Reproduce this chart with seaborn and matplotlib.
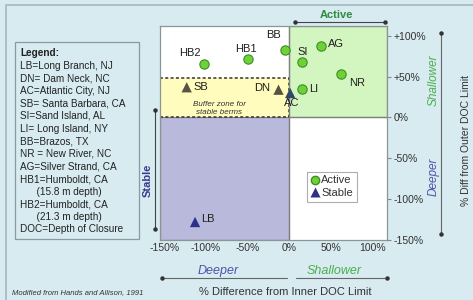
import matplotlib
matplotlib.use("Agg")
import matplotlib.pyplot as plt
from matplotlib.patches import Rectangle
from matplotlib.lines import Line2D
import seaborn as sns
import pandas as pd

# ---- data ----
active_sites = ["HB2", "HB1", "BB", "SI", "AG", "NR", "LI"]
active_inner = [-102, -50, -5, 15, 38, 62, 15]
active_outer = [66, 72, 83, 68, 88, 53, 35]

stable_sites = ["SB", "DN", "AC", "LB"]
stable_inner = [-123, -13, 1, -113]
stable_outer = [37, 34, 30, -128]

x_ticks = [-150, -100, -50, 0, 50, 100]
x_tick_labels = ["-150%", "-100%", "-50%", "0%", "50%", "100%"]
y_ticks = [100, 50, 0, -50, -100, -150]
y_tick_labels = ["+100%", "+50%", "0%", "-50%", "-100%", "-150%"]
buffer_top = 48

legend_lines = ["Legend:", "LB=Long Branch, NJ", "DN= Dam Neck, NC", "AC=Atlantic City, NJ",
                "SB= Santa Barbara, CA", "SI=Sand Island, AL", "LI= Long Island, NY",
                "BB=Brazos, TX", "NR = New River, NC", "AG=Silver Strand, CA",
                "HB1=Humboldt, CA", "      (15.8 m depth)", "HB2=Humboldt, CA",
                "      (21.3 m depth)", "DOC=Depth of Closure"]

active_df = pd.DataFrame({"site": active_sites, "inner": active_inner, "outer": active_outer})
stable_df = pd.DataFrame({"site": stable_sites, "inner": stable_inner, "outer": stable_outer})

# ---- style ----
sns.set_theme(style="white")
plt.rcParams["font.family"] = ["Liberation Sans", "DejaVu Sans"]

W, H = 473, 300
BG = "#d7ebf1"
fig = plt.figure(figsize=(W / 100, H / 100), dpi=100, facecolor=BG)

def fx(px):
    return px / W

def fy(py):
    return 1 - py / H

# outer frame
fig.patches.append(Rectangle((fx(6), -0.05), 1.1, fy(5) + 0.05, transform=fig.transFigure,
                             fill=False, edgecolor="#a5b8bf", linewidth=1.2))

ax = fig.add_axes([fx(160), fy(240), fx(387) - fx(160), fy(26) - fy(240)])
ax.set_facecolor("white")
XMIN, XMAX, YMIN, YMAX = -155, 117, -150, 112
ax.set_xlim(XMIN, XMAX)
ax.set_ylim(YMIN, YMAX)

# regions
ax.add_patch(Rectangle((0, 0), XMAX, YMAX, facecolor="#d3f5c0", edgecolor="#7f8f80", linewidth=0.9, zorder=1))
ax.add_patch(Rectangle((XMIN, YMIN), -XMIN, -YMIN, facecolor="#b9b9dc", edgecolor="#7f8080", linewidth=0.9, zorder=1))
ax.add_patch(Rectangle((XMIN, 0), -XMIN, buffer_top, facecolor="#fffcbe", edgecolor="#333333",
                       linewidth=1.1, linestyle=(0, (2, 1.5)), zorder=2))
ax.plot([0, XMAX], [0, 0], color="#7f8080", lw=0.9, zorder=2)
ax.plot([0, 0], [YMIN, YMAX], color="#7f8080", lw=0.9, zorder=2)

# points
sns.scatterplot(data=active_df, x="inner", y="outer", ax=ax, marker="o", s=45,
                color="#6fd13a", edgecolor="#3d8f22", linewidth=0.8, zorder=5, legend=False)
stable_palette = {"SB": "#585240", "DN": "#585240", "AC": "#2f4a68", "LB": "#2e2f86"}
sns.scatterplot(data=stable_df, x="inner", y="outer", ax=ax, marker="^", s=55, hue="site",
                palette=stable_palette, edgecolor="none", zorder=5, legend=False)

# point labels (offsets in pixels)
offsets = {"HB2": (-14, 11), "HB1": (-2, 10), "BB": (-12, 15), "SI": (1, 10), "AG": (15, 2),
           "NR": (16, -9), "LI": (12, 0), "SB": (14, 0), "DN": (-16, 2), "AC": (2, -10),
           "LB": (13, 3)}
for df in (active_df, stable_df):
    for s, xv, yv in zip(df["site"], df["inner"], df["outer"]):
        dx, dy = offsets[s]
        ax.annotate(s, (xv, yv), xytext=(dx * 0.72, dy * 0.72), textcoords="offset points",
                    ha="center", va="center", fontsize=8, color="#1f1f1f", zorder=6)

ax.text(-84, 11, "Buffer zone for\nstable berms", ha="center", va="center", fontsize=5.8,
        style="italic", color="#333333", linespacing=1.35, zorder=6)

# ticks
ax.set_xticks(x_ticks)
ax.set_xticklabels(x_tick_labels)
ax.yaxis.tick_right()
ax.set_yticks(y_ticks)
ax.set_yticklabels(y_tick_labels)
ax.tick_params(axis="x", length=0, pad=2, labelsize=7.5, labelcolor="#333333")
ax.tick_params(axis="y", right=True, length=3, width=0.8, color="#888888", pad=2,
               labelsize=7.5, labelcolor="#333333")
ax.set_xlabel("")
ax.set_ylabel("")
for sp in ax.spines.values():
    sp.set_color("#8a9595")
    sp.set_linewidth(0.9)

# marker legend
handles = [Line2D([], [], marker="o", linestyle="none", markersize=6, markerfacecolor="#6fd13a",
                  markeredgecolor="#3d8f22", label="Active"),
           Line2D([], [], marker="^", linestyle="none", markersize=7, markerfacecolor="#2e2f86",
                  markeredgecolor="none", label="Stable")]
leg = ax.legend(handles=handles, loc="center", bbox_to_anchor=(0.63, 0.173, 0.255, 0.154),
                fontsize=8, frameon=True, fancybox=False, handlelength=0.7, handletextpad=0.2,
                borderpad=0.35, labelspacing=0.2, borderaxespad=0)
leg.get_frame().set_edgecolor("#999999")
leg.get_frame().set_linewidth(0.8)
for t in leg.get_texts():
    t.set_color("#333333")
leg.set_zorder(7)

# text legend box
fig.patches.append(Rectangle((fx(15), fy(239)), fx(139) - fx(15), fy(42) - fy(239),
                             transform=fig.transFigure, facecolor="none", edgecolor="#8a9a9f", linewidth=0.9))
for i, line in enumerate(legend_lines):
    fig.text(fx(20), fy(53 + i * 12.6), line, fontsize=7.2, color="#222222", va="center", ha="left",
             fontweight="bold" if i == 0 else "normal")

# arrow helper
def hline(x0, x1, y, color="#444444"):
    fig.add_artist(Line2D([fx(x0), fx(x1)], [fy(y), fy(y)], transform=fig.transFigure,
                          color=color, lw=0.8))

def vline(x, y0, y1, color="#444444"):
    fig.add_artist(Line2D([fx(x), fx(x)], [fy(y0), fy(y1)], transform=fig.transFigure,
                          color=color, lw=0.8))

def dot(x, y):
    fig.add_artist(Line2D([fx(x)], [fy(y)], transform=fig.transFigure, marker="o",
                          markersize=2.2, color="#333333", linestyle="none"))

# Active
fig.text(fx(336), fy(15), "Active", fontsize=8, fontweight="bold", color="#2e8b3e", ha="center", va="center")
hline(295, 385, 22)
dot(295, 22); dot(385, 22)

# Stable
vline(155, 110, 229)
dot(155, 110); dot(155, 229)
fig.text(fx(148), fy(180), "Stable", fontsize=8, fontweight="bold", color="#3a3a8c", rotation=90,
         ha="center", va="center")

# right side
vline(441, 33, 234, color="#666666")
dot(441, 33); dot(441, 234)
fig.text(fx(434), fy(80), "Shallower", fontsize=8.5, style="italic", color="#4caf4c", rotation=90,
         ha="center", va="center")
fig.text(fx(434), fy(177), "Deeper", fontsize=8.5, style="italic", color="#5252a8", rotation=90,
         ha="center", va="center")
fig.text(fx(466), fy(140), "% Diff from Outer DOC Limit", fontsize=7.5, color="#333333", rotation=90,
         ha="center", va="center")

# bottom
hline(162, 287, 278, color="#666666")
hline(296, 387, 278, color="#666666")
dot(162, 278); dot(387, 278)
fig.text(fx(218), fy(271), "Deeper", fontsize=9, style="italic", color="#5252a8", ha="center", va="center")
fig.text(fx(334), fy(271), "Shallower", fontsize=9, style="italic", color="#4caf4c", ha="center", va="center")
fig.text(fx(285), fy(292), "% Difference from Inner DOC Limit", fontsize=8, color="#333333",
         ha="center", va="center")
fig.text(fx(12), fy(293), "Modified from Hands and Allison, 1991", fontsize=5.5, style="italic",
         color="#333333", ha="left", va="center")

fig.savefig("out.png", dpi=100, facecolor=BG)
